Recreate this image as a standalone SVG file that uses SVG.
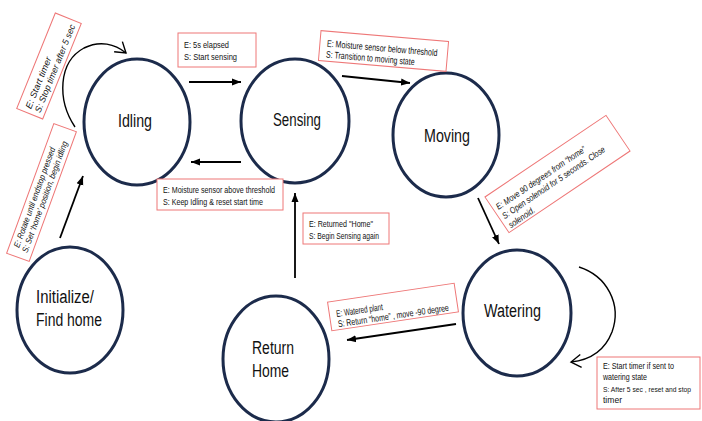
<svg xmlns="http://www.w3.org/2000/svg" width="702" height="421" viewBox="0 0 702 421">
<style>
.node{fill:#fff;stroke:#1c2b4b;stroke-width:3}
.nt{font-family:"Liberation Sans",Arial,sans-serif;font-size:18px;fill:#111}
.box{fill:#fff;stroke:#ee7777;stroke-width:1}
.lt{font-family:"Liberation Sans",Arial,sans-serif;font-size:9.5px;fill:#111}
.it{font-style:italic;font-size:9px}
.arr{fill:none;stroke:#000;stroke-width:1.8}
.loop{fill:none;stroke:#000;stroke-width:1.4}
</style>
<defs>
<marker id="ah" markerUnits="userSpaceOnUse" markerWidth="10" markerHeight="10" viewBox="0 0 10 10" refX="9" refY="5" orient="auto">
<path d="M0,1.5 L9,5 L0,8.5 Z" fill="#000"/>
</marker>
<marker id="ch" markerUnits="userSpaceOnUse" markerWidth="16" markerHeight="16" viewBox="0 0 16 16" refX="14" refY="8" orient="auto">
<path d="M4,1.5 L14,8 L4,14.5" fill="none" stroke="#000" stroke-width="1.4"/>
</marker>
</defs>
<rect width="702" height="421" fill="#fff"/>

<g id="connectors">
<path class="arr" d="M189,82 L241,82" marker-end="url(#ah)"/>
<path class="arr" d="M241,162 L191,162" marker-end="url(#ah)"/>
<path class="arr" d="M342,76 L410,83" marker-end="url(#ah)"/>
<path class="arr" d="M478,198 L499,244" marker-end="url(#ah)"/>
<path class="arr" d="M456,324 L347,340" marker-end="url(#ah)"/>
<path class="arr" d="M295,278 L295,193" marker-end="url(#ah)"/>
<path class="arr" d="M60,238 L83,176" marker-end="url(#ah)"/>
<path class="loop" d="M75,127 C57,100 58,62 84,48 C100,40 115,44 126,53" marker-end="url(#ch)"/>
<path class="loop" d="M579,267 C607,276 622,304 612,332 C605,350 590,360 571,362" marker-end="url(#ch)"/>
</g>

<g id="node-idling">
<ellipse class="node" cx="137" cy="122" rx="53" ry="63"/>
<text class="nt" x="118" y="127" textLength="34" lengthAdjust="spacingAndGlyphs">Idling</text>
</g>
<g id="node-sensing">
<ellipse class="node" cx="295" cy="121" rx="54" ry="62"/>
<text class="nt" x="273" y="126" textLength="48" lengthAdjust="spacingAndGlyphs">Sensing</text>
</g>
<g id="node-moving">
<ellipse class="node" cx="446" cy="135" rx="53" ry="62"/>
<text class="nt" x="424" y="142" textLength="46" lengthAdjust="spacingAndGlyphs">Moving</text>
</g>
<g id="node-watering">
<ellipse class="node" cx="517" cy="313" rx="54" ry="63"/>
<text class="nt" x="484" y="317" textLength="57" lengthAdjust="spacingAndGlyphs">Watering</text>
</g>
<g id="node-return">
<ellipse class="node" cx="276" cy="359" rx="53" ry="63"/>
<text class="nt" x="252" y="354" textLength="42" lengthAdjust="spacingAndGlyphs">Return</text>
<text class="nt" x="252" y="377" textLength="37" lengthAdjust="spacingAndGlyphs">Home</text>
</g>
<g id="node-init">
<ellipse class="node" cx="70" cy="310" rx="53" ry="63"/>
<text class="nt" x="36" y="303" textLength="58" lengthAdjust="spacingAndGlyphs">Initialize/</text>
<text class="nt" x="36" y="326" textLength="66" lengthAdjust="spacingAndGlyphs">Find home</text>
</g>

<g id="label-5s">
<rect class="box" x="178" y="33" width="78" height="34"/>
<text class="lt" x="184" y="47.5" textLength="45" lengthAdjust="spacingAndGlyphs">E: 5s elapsed</text>
<text class="lt" x="184" y="60" textLength="53" lengthAdjust="spacingAndGlyphs">S: Start sensing</text>
</g>
<g id="label-below" transform="translate(383.5,51) rotate(4.9)">
<rect class="box" x="-64" y="-15" width="128" height="30"/>
<text class="lt" x="-57" y="0.5" textLength="111" lengthAdjust="spacingAndGlyphs">E: Moisture sensor below threshold</text>
<text class="lt" x="-57" y="11.5" textLength="89" lengthAdjust="spacingAndGlyphs">S: Transition to moving state</text>
</g>
<g id="label-above">
<rect class="box" x="157" y="179" width="126" height="31"/>
<text class="lt" x="163" y="193" textLength="112" lengthAdjust="spacingAndGlyphs">E: Moisture sensor above threshold</text>
<text class="lt" x="163" y="204.5" textLength="100" lengthAdjust="spacingAndGlyphs">S: Keep Idling &amp; reset start time</text>
</g>
<g id="label-returned">
<rect class="box" x="303" y="213" width="86" height="31"/>
<text class="lt" x="309" y="227" textLength="64" lengthAdjust="spacingAndGlyphs">E: Returned "Home"</text>
<text class="lt" x="309" y="238.5" textLength="70" lengthAdjust="spacingAndGlyphs">S: Begin Sensing again</text>
</g>
<g id="label-move90" transform="translate(557.5,174) rotate(-34)">
<rect class="box" x="-73" y="-21.5" width="146" height="43"/>
<text class="lt it" x="-69" y="-3" textLength="106" lengthAdjust="spacingAndGlyphs">E: Move 90 degrees from “home”</text>
<text class="lt it" x="-69" y="8" textLength="122" lengthAdjust="spacingAndGlyphs">S: Open solenoid for 5 seconds. Close</text>
<text class="lt it" x="-69" y="19" textLength="30" lengthAdjust="spacingAndGlyphs">solenoid.</text>
</g>
<g id="label-watered" transform="translate(393,307) rotate(-8.5)">
<rect class="box" x="-64" y="-14.5" width="128" height="29"/>
<text class="lt" x="-57" y="1.5" textLength="47" lengthAdjust="spacingAndGlyphs">E: Watered plant</text>
<text class="lt" x="-57" y="12" textLength="112" lengthAdjust="spacingAndGlyphs">S: Return “home” , move -90 degree</text>
</g>
<g id="label-timer-water">
<rect class="box" x="597" y="357" width="103" height="52"/>
<text class="lt" x="603" y="369" textLength="71" lengthAdjust="spacingAndGlyphs">E: Start timer if sent to</text>
<text class="lt" x="603" y="380" textLength="44" lengthAdjust="spacingAndGlyphs">watering state</text>
<text class="lt" x="603" y="392" textLength="88" lengthAdjust="spacingAndGlyphs" style="font-size:7.2px">S: After 5 sec , reset and stop</text>
<text class="lt" x="603" y="403" textLength="19" lengthAdjust="spacingAndGlyphs">timer</text>
</g>
<g id="label-timer-idle" transform="translate(49,66) rotate(-68)">
<rect class="box" x="-51.5" y="-14" width="103" height="28"/>
<text class="lt it" x="-47" y="-0.5" textLength="55" lengthAdjust="spacingAndGlyphs">E:  Start timer</text>
<text class="lt it" x="-47" y="9.5" textLength="94" lengthAdjust="spacingAndGlyphs">S: Stop timer after 5 sec</text>
</g>
<g id="label-init" transform="translate(41.5,192.5) rotate(-70)">
<rect class="box" x="-69" y="-12" width="138" height="24"/>
<text class="lt it" x="-60" y="-2" textLength="106" lengthAdjust="spacingAndGlyphs" style="font-size:8.5px">E: Rotate until endstop pressed</text>
<text class="lt it" x="-62" y="7.5" textLength="118" lengthAdjust="spacingAndGlyphs" style="font-size:8.5px">S: Set ‘home’ position,  begin idling</text>
</g>
</svg>
